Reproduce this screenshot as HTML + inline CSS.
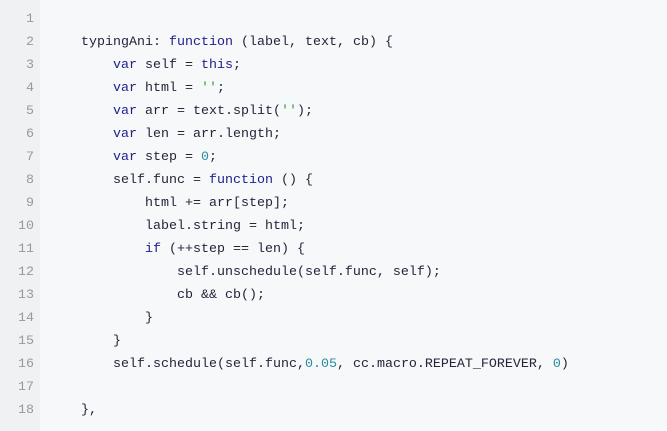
<!DOCTYPE html>
<html><head><style>
html,body{margin:0;padding:0;width:667px;height:431px;overflow:hidden;background:#f6f8fa;}
.g{position:absolute;left:0;top:0;width:40px;height:431px;background:#f0f1f3;}
.n{position:absolute;left:0;width:34px;text-align:right;color:#999;}
.l{position:absolute;left:49px;color:#24243a;white-space:pre;}
.n,.l{font-family:"Liberation Mono",monospace;font-size:13.33px;line-height:23px;}
.k{color:#20208a}.s{color:#3a9a3a}.d{color:#2a8aa0}
</style></head><body>
<div class="g"></div>
<div id="c"></div>
<script></script>
<div class="n" style="top:8px">1</div><div class="n" style="top:31px">2</div><div class="n" style="top:54px">3</div><div class="n" style="top:77px">4</div><div class="n" style="top:100px">5</div><div class="n" style="top:123px">6</div><div class="n" style="top:146px">7</div><div class="n" style="top:169px">8</div><div class="n" style="top:192px">9</div><div class="n" style="top:215px">10</div><div class="n" style="top:238px">11</div><div class="n" style="top:261px">12</div><div class="n" style="top:284px">13</div><div class="n" style="top:307px">14</div><div class="n" style="top:330px">15</div><div class="n" style="top:353px">16</div><div class="n" style="top:376px">17</div><div class="n" style="top:399px">18</div>
<div class="l" style="top:31px">    typingAni: <span class="k">function</span> (label, text, cb) {</div>
<div class="l" style="top:54px">        <span class="k">var</span> self = <span class="k">this</span>;</div>
<div class="l" style="top:77px">        <span class="k">var</span> html = <span class="s">''</span>;</div>
<div class="l" style="top:100px">        <span class="k">var</span> arr = text.split(<span class="s">''</span>);</div>
<div class="l" style="top:123px">        <span class="k">var</span> len = arr.length;</div>
<div class="l" style="top:146px">        <span class="k">var</span> step = <span class="d">0</span>;</div>
<div class="l" style="top:169px">        self.func = <span class="k">function</span> () {</div>
<div class="l" style="top:192px">            html += arr[step];</div>
<div class="l" style="top:215px">            label.string = html;</div>
<div class="l" style="top:238px">            <span class="k">if</span> (++step == len) {</div>
<div class="l" style="top:261px">                self.unschedule(self.func, self);</div>
<div class="l" style="top:284px">                cb &amp;&amp; cb();</div>
<div class="l" style="top:307px">            }</div>
<div class="l" style="top:330px">        }</div>
<div class="l" style="top:353px">        self.schedule(self.func,<span class="d">0.05</span>, cc.macro.REPEAT_FOREVER, <span class="d">0</span>)</div>
<div class="l" style="top:399px">    },</div>
</body></html>
